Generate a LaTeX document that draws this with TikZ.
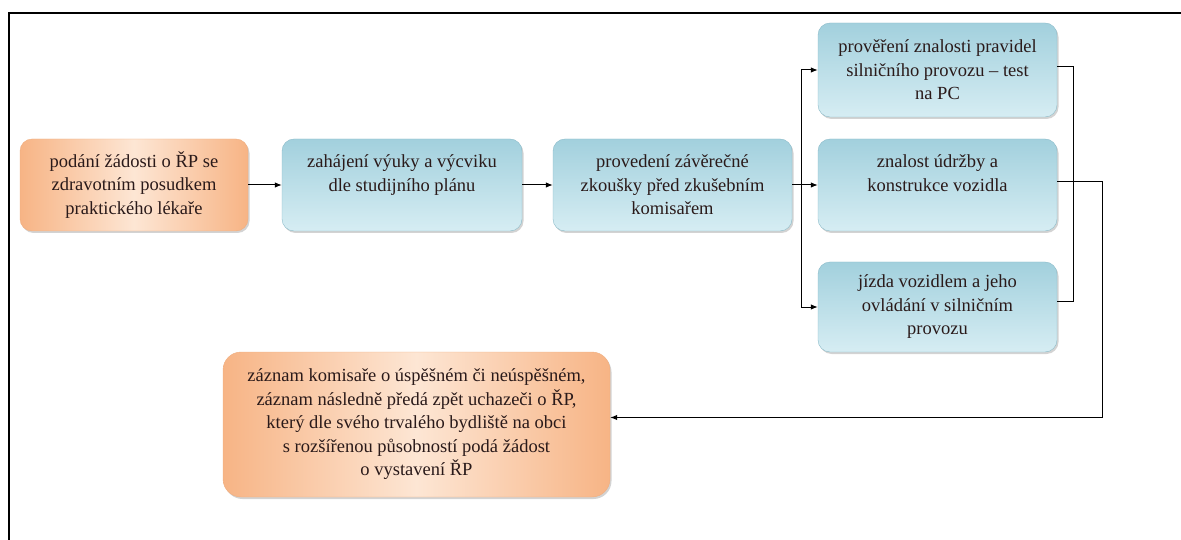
\documentclass[tikz,border=0pt]{standalone}
\usepackage{fontspec}
\setmainfont{Liberation Serif}
\usetikzlibrary{arrows.meta,shadows}
\definecolor{blueA}{HTML}{A2D0DD}
\definecolor{blueB}{HTML}{D6EDF3}
\definecolor{blueD}{HTML}{8BBBC9}
\definecolor{orA}{HTML}{F7B485}
\definecolor{orB}{HTML}{FDE6D4}
\definecolor{orD}{HTML}{EFAE80}
\definecolor{txt}{HTML}{2A1A1A}
\begin{document}
\begin{tikzpicture}[x=1pt,y=-1pt,
  box/.style={rounded corners=12pt, align=center, inner sep=0pt,
    minimum height=92pt, font=\fontsize{18.5}{23.5}\selectfont, text=txt,
    drop shadow={shadow xshift=1.5pt, shadow yshift=-2pt, opacity=0.35, fill=gray}},
  bluebox/.style={box, draw=blueD, top color=blueA, bottom color=blueB, minimum width=239pt},
  orangebox/.style={box, draw=orD, left color=orA, right color=orA, middle color=orB},
  arr/.style={-{Latex[length=7pt,width=5.5pt]}, line width=1pt},
  ln/.style={line width=1pt}]
\useasboundingbox (0,0) rectangle (1181,540);
\draw[line width=2.2pt] (9,541) -- (9,13) -- (1182,13);

\node[orangebox, minimum width=228pt] (a) at (134,185)
  {podání žádosti o ŘP se\\zdravotním posudkem\\praktického lékaře};
\node[bluebox, minimum width=240pt] (b) at (402,185)
  {zahájení výuky a výcviku\\dle studijního plánu\\\mbox{}};
\node[bluebox] (c) at (672.5,185)
  {provedení závěrečné\\zkoušky před zkušebním\\komisařem};
\node[bluebox, minimum height=94pt] (d1) at (937.5,70)
  {prověření znalosti pravidel\\silničního provozu – test\\na PC};
\node[bluebox] (d2) at (937.5,185)
  {znalost údržby a\\konstrukce vozidla\\\mbox{}};
\node[bluebox, minimum height=90pt] (d3) at (937.5,307)
  {jízda vozidlem a jeho\\ovládání v silničním\\provozu};
\node[orangebox, rounded corners=18pt, minimum width=387pt, minimum height=145pt] (f) at (416.5,424.5)
  {záznam komisaře o úspěšném či neúspěšném,\\záznam následně předá zpět uchazeči o ŘP,\\který dle svého trvalého bydliště na obci\\s rozšířenou působností podá žádost\\o vystavení ŘP};

\coordinate (busL) at (801,185);
\coordinate (busR) at (1073,185);
\draw[arr] (a) -- (b);
\draw[arr] (b) -- (c);
\draw[ln] (c.east) -- (busL);
\draw[arr] (busL) |- (d1.west);
\draw[arr] (busL) -- (d2.west);
\draw[arr] (busL) |- (d3.west);
\draw[ln] ([yshift=3pt]d1.east) -| (busR) |- ([yshift=6pt]d3.east);
\draw[arr] ([yshift=3pt]d2.east) -- ++(45,0) |- ([yshift=7pt]f.east);
\end{tikzpicture}
\end{document}
